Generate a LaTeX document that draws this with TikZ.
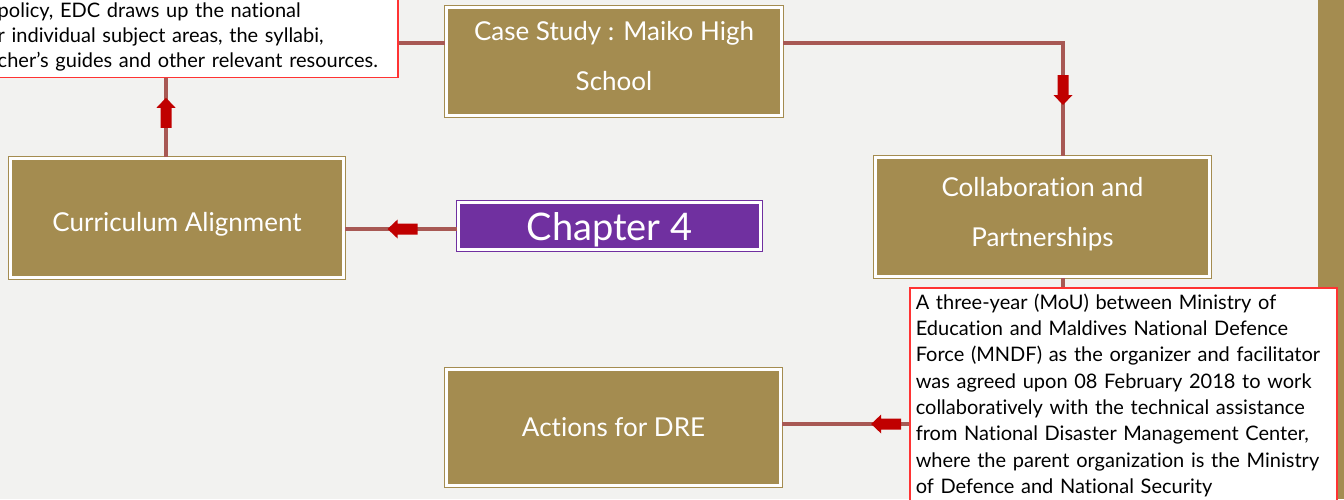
\documentclass[tikz,border=0pt]{standalone}
\usepackage{fontspec}
\setmainfont{Lato}[Ligatures=NoCommon]
\usetikzlibrary{positioning}

\definecolor{boxgold}{RGB}{164,140,80}
\definecolor{linkred}{RGB}{168,89,84}
\definecolor{arrowred}{RGB}{192,0,0}
\definecolor{chappurple}{RGB}{112,48,160}
\definecolor{notered}{RGB}{255,51,51}
\definecolor{slidebg}{RGB}{242,242,240}

\tikzset{
  goldbox/.style={rectangle, fill=#1, draw=white, line width=3pt,
    preaction={draw=#1, line width=5pt}, text=white, align=center, inner sep=0pt},
  goldbox/.default=boxgold,
  notebox/.style={rectangle, fill=white, draw=notered, line width=1.5pt,
    align=left, inner xsep=6pt, inner ysep=6pt, font=\fontsize{20}{26.3}\selectfont},
  link/.style={draw=linkred, line width=4pt},
  blockarrow/.pic={
    \fill[arrowred] (-15,-5.5) -- (5,-5.5) -- (5,-9.5) -- (15,0) -- (5,9.5) -- (5,5.5) -- (-15,5.5) -- cycle;
  }
}

\begin{document}
\begin{tikzpicture}[x=1pt, y=-1pt]
    \useasboundingbox (0,0) rectangle (1344,499);
    \clip (0,0) rectangle (1344,499);
    \fill[slidebg] (0,0) rectangle (1344,499);
    \fill[boxgold] (1318,0) rectangle (1344,499);

    % Boxes
    \node[notebox, anchor=south west, text width=394pt, font=\fontsize{20}{25}\selectfont] (policy) at (-9,78)
        {policy, EDC draws up the national\\
         r individual subject areas, the syllabi,\\
         cher’s guides and other relevant resources.};
    \node[goldbox, minimum width=335pt, minimum height=108pt, text depth=12pt, font=\fontsize{26}{50}\selectfont] (case) at (614,61.5)
        {Case Study : Maiko High\\School};
    \node[goldbox, minimum width=333pt, minimum height=119pt, text height=31pt, font=\fontsize{26}{50}\selectfont] (curr) at (177,218)
        {Curriculum Alignment};
    \node[goldbox=chappurple, minimum width=302pt, minimum height=47pt, text height=35pt, font=\fontsize{38}{40}\selectfont] (chap) at (609.5,226)
        {Chapter 4};
    \node[goldbox, minimum width=334pt, minimum height=119pt, text depth=11pt, font=\fontsize{26}{50}\selectfont] (collab) at (1042.5,217)
        {Collaboration and\\Partnerships};
    \node[notebox, anchor=north west, text width=415pt] (mou) at (909,287)
        {A three-year (MoU) between Ministry of\\
         Education and Maldives National Defence\\
         Force (MNDF) as the organizer and facilitator\\
         was agreed upon 08 February 2018 to work\\
         collaboratively with the technical assistance\\
         from National Disaster Management Center,\\
         where the parent organization is the Ministry\\
         of Defence and National Security};
    \node[goldbox, minimum width=334pt, minimum height=116pt, font=\fontsize{26}{50}\selectfont] (actions) at (613.5,427.5)
        {Actions for DRE};

    % Connectors
    \coordinate (top) at (0,43);
    \coordinate (mid) at (0,229);
    \coordinate (low) at (0,424);
    \path[link] (policy.east |- top) -- (case.west |- top);
    \path[link] (case.east |- top) -| ([xshift=20.5pt]collab.north);
    \path[link] ([xshift=20.5pt]collab.south) -- ([xshift=20.5pt]collab.south |- mou.north);
    \path[link] (chap.west |- mid) -- (curr.east |- mid);
    \path[link] (mou.west |- low) -- (actions.east |- low);
    \path[link] ([xshift=-11pt]curr.north) -- ([xshift=-11pt]curr.north |- policy.south);

    % Block arrows
    \path (case.east |- top) -| ([xshift=20.5pt]collab.north)
        pic[pos=0.708, sloped, allow upside down] {blockarrow};
    \path (chap.west |- mid) -- (curr.east |- mid)
        pic[pos=0.486, sloped, allow upside down] {blockarrow};
    \path (mou.west |- low) -- (actions.east |- low)
        pic[pos=0.18, sloped, allow upside down] {blockarrow};
    \path ([xshift=-11pt]curr.north) -- ([xshift=-11pt]curr.north |- policy.south)
        pic[pos=0.56, sloped, allow upside down] {blockarrow};
\end{tikzpicture}
\end{document}
